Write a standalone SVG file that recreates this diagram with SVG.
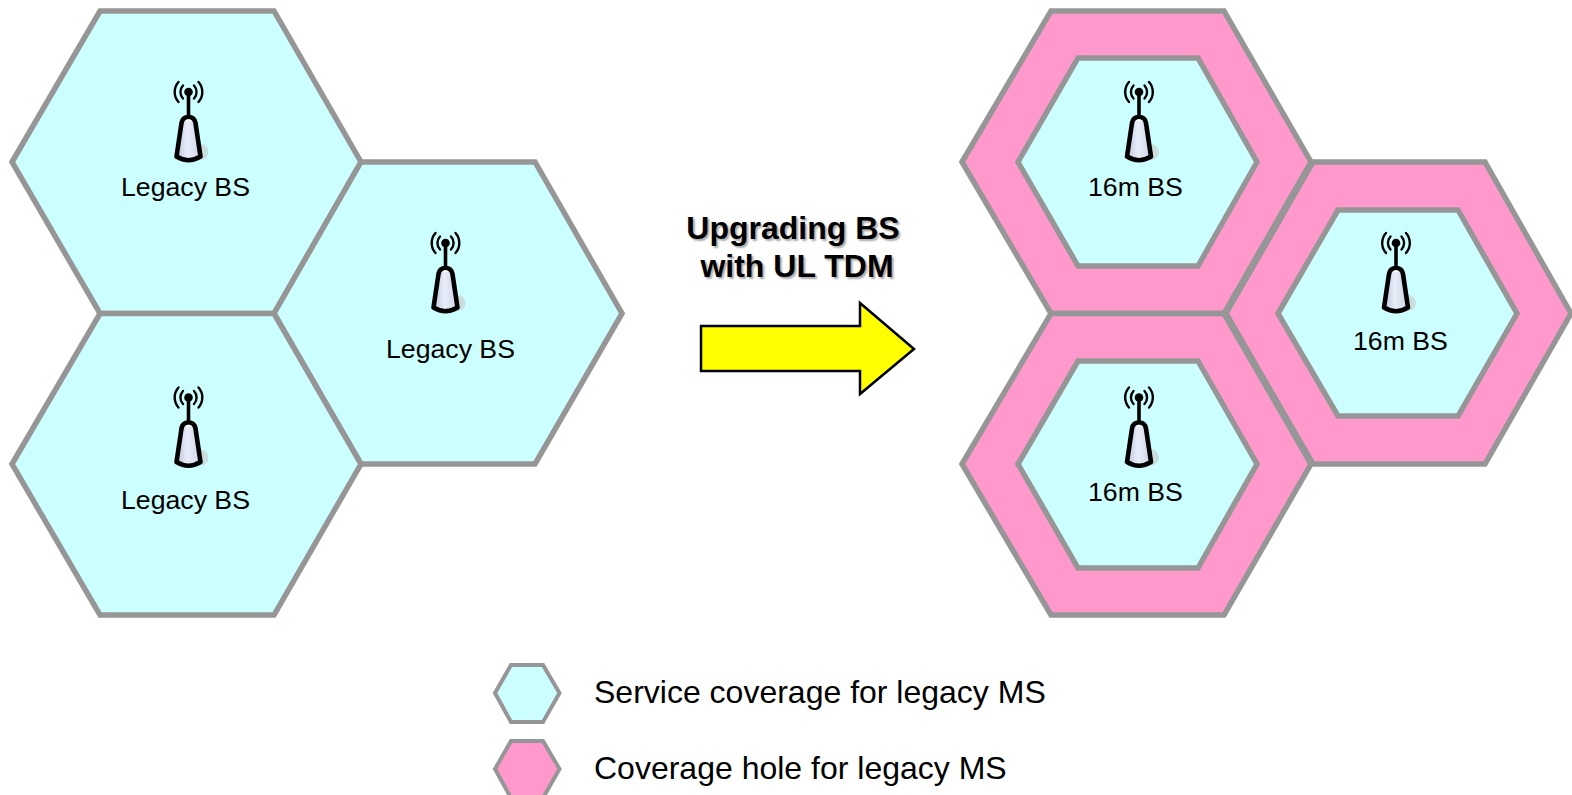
<svg xmlns="http://www.w3.org/2000/svg" width="1572" height="795" viewBox="0 0 1572 795">
<style>
.cell{stroke:#969696;stroke-width:5.5;stroke-linejoin:miter}
.small{stroke-width:4}
.blue{fill:#ccffff}
.pink{fill:#ff99cc}
text{font-family:"Liberation Sans",Arial,sans-serif;fill:#000}
.lbl{font-size:26.67px}
.leg{font-size:32px}
.title{font-size:32px;font-weight:bold;text-anchor:middle;text-shadow:2px 2px 2px #aaa}
</style>
<defs>
<linearGradient id="tw" x1="0" x2="1" y1="0" y2="0"><stop offset="0" stop-color="#bcc4dc"/><stop offset=".45" stop-color="#e8edf8"/><stop offset="1" stop-color="#ccd3e6"/></linearGradient>
<g id="ant">
<circle cx="12" cy="81" r="8" fill="#c8c8c8" opacity=".6"/>
<path d="M0 24V50" stroke="#000" stroke-width="3.6" fill="none"/>
<circle cx="0" cy="21" r="4.300" fill="#000"/>
<path d="M-5.500 14.500a9.500 9.500 0 0 0 0 13M5.500 14.500a9.500 9.500 0 0 1 0 13M-10 11a15 15 0 0 0 0 20M10 11a15 15 0 0 1 0 20" stroke="#000" stroke-width="2.400" fill="none" stroke-linecap="round"/>
<path d="M-7 52Q-6 46 0 46Q6 46 7 52L12 85.500Q0 93 -12 85.500Z" fill="url(#tw)" stroke="#000" stroke-width="4.600" stroke-linejoin="round"/>
<path d="M-2.500 50Q0 48 2.500 50" stroke="#fff" stroke-width="1.500" fill="none"/>
</g>
</defs>
<g id="connectors"></g>
<g id="legacy-1"><polygon class="cell blue" points="12,162 100,11 274,11 361,162 274,313.500 100,313.500"/><use href="#ant" x="188.500" y="71"/><text class="lbl" x="121" y="196">Legacy BS</text></g>
<g id="legacy-2"><polygon class="cell blue" points="274,313.500 361,162 535,162 622,313.500 535,464 361,464"/><use href="#ant" x="445.500" y="222"/><text class="lbl" x="386" y="358">Legacy BS</text></g>
<g id="legacy-3"><polygon class="cell blue" points="12,464 100,313.500 274,313.500 361,464 274,615 100,615"/><use href="#ant" x="188.500" y="376.500"/><text class="lbl" x="121" y="509">Legacy BS</text></g>
<g id="upgrade-arrow">
<text class="title" x="793" y="239">Upgrading BS</text>
<text class="title" x="797" y="277">with UL TDM</text>
<polygon points="701,326 860,326 860,303 914,349 860,394 860,371 701,371" fill="#ffff00" stroke="#000" stroke-width="2.500"/>
</g>
<g id="m16-1"><polygon class="cell pink" points="962,162 1051,11 1224,11 1311,162 1224,313.500 1051,313.500"/><polygon class="cell blue" points="1018,162 1078,58 1198,58 1257,162 1198,266 1078,266"/><use href="#ant" x="1139" y="71"/><text class="lbl" x="1088" y="196">16m BS</text></g>
<g id="m16-2"><polygon class="cell pink" points="1226,313.500 1313,162 1485,162 1571,313.500 1485,464 1313,464"/><polygon class="cell blue" points="1278,313.500 1338,210 1458,210 1517,313.500 1458,416 1338,416"/><use href="#ant" x="1396" y="222"/><text class="lbl" x="1353" y="350">16m BS</text></g>
<g id="m16-3"><polygon class="cell pink" points="962,464 1051,313.500 1224,313.500 1311,464 1224,615 1051,615"/><polygon class="cell blue" points="1018,464 1078,361 1198,361 1257,464 1198,568 1078,568"/><use href="#ant" x="1139" y="376.500"/><text class="lbl" x="1088" y="501">16m BS</text></g>
<g id="legend-service"><polygon class="cell small blue" points="495,693 511,665 543,665 559.500,693 543,722 511,722"/><text class="leg" x="594" y="703">Service coverage for legacy MS</text></g>
<g id="legend-hole"><polygon class="cell small pink" points="495,769 511,741 543,741 559.500,769 543,798 511,798"/><text class="leg" x="594" y="779">Coverage hole for legacy MS</text></g>
</svg>
